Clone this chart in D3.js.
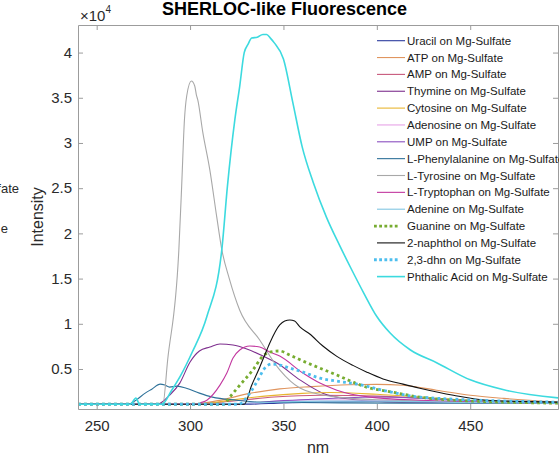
<!DOCTYPE html>
<html>
<head>
<meta charset="utf-8">
<script src="https://cdn.jsdelivr.net/npm/d3@7"></script>
<style>
body { margin: 0; background: #fff; }
svg { display: block; font-family: "Liberation Sans", Arial, sans-serif; }
</style>
</head>
<body>
<div id="chart"></div>
<script>
// Spectra: [wavelength nm, intensity]
const uracil = [[240,1100],[330,1100],[350,1250],[370,1350],[400,1400],[430,1380],[460,1300],[497,1200]];
const atp = [[240,1100],[300,1100],[315,1500],[332,2300],[348,2800],[365,3050],[385,3250],[400,3300],[414,3200],[432,2650],[450,2100],[468,1750],[497,1330]];
const amp = [[240,1100],[300,1100],[320,1400],[345,1900],[370,2100],[400,2000],[440,1600],[497,1250]];
const thymine = [[240,1100],[282,1100],[284,1220],[289,2100],[294.5,3440],[300,5770],[305,6990],[310.6,7430],[316,7760],[323,7650],[330.4,7210],[339,6430],[346.5,5660],[359,3770],[371,2330],[386,1660],[412,1330],[497,1220]];
const cytosine = [[240,1100],[305,1100],[320,1500],[340,2000],[360,2300],[375,2400],[400,2200],[430,1800],[460,1400],[497,1200]];
const adenosine = [[240,1100],[320,1100],[345,1400],[370,1600],[400,1550],[440,1350],[497,1150]];
const ump = [[240,1100],[320,1100],[350,1500],[380,1800],[400,1900],[430,1700],[460,1400],[497,1200]];
const phenylalanine = [[240,1100],[267,1100],[271,1550],[276,2330],[279.5,2770],[284,3330],[286.5,3220],[289,3000],[293,3100],[298,2880],[305,2330],[312,1890],[325,1550],[337,1330],[380,1250],[497,1200]];
const tyrosine = [[240,1100],[285.4,1100],[288,6000],[294,18200],[295.5,25200],[297,32600],[298.2,35200],[300.7,36850],[302.5,36300],[303.4,35300],[304.1,34800],[306.8,31200],[310.6,27000],[314.3,21800],[317,18200],[321,15000],[326.6,11500],[337.3,8200],[348,4900],[358.8,2900],[375,2000],[400,1600],[497,1300]];
const tryptophan = [[240,1100],[304,1100],[305.2,1220],[309,1550],[316,3220],[319.7,4550],[323,6210],[326.6,7100],[332,7540],[337.3,7430],[342.7,6880],[348,6430],[360.4,4550],[369.5,3440],[378.6,2660],[396.3,1890],[423,1550],[497,1220]];
const adenine = [[240,1100],[310,1100],[340,1300],[370,1450],[400,1450],[450,1300],[497,1200]];
const guanine = [[240,1100],[318,1100],[321.3,1900],[326.6,3200],[333.6,4880],[339,6430],[342.7,6880],[348,6990],[353.4,6540],[360.4,5880],[369.5,5100],[378.6,4330],[387.2,3550],[396.3,2880],[405.4,2550],[423,1890],[441,1550],[497,1220]];
const naphthol = [[240,1100],[329,1100],[333,3200],[337.3,5200],[341.1,7100],[342.7,7870],[348,9870],[350.7,10310],[353.4,10420],[356,10310],[358.8,9650],[364.1,8870],[371.1,7540],[378.6,6400],[387.2,5400],[394.7,4650],[403.3,3900],[414,3330],[423,2880],[441,2100],[459,1550],[497,1330]];
const dhn = [[240,1100],[326,1100],[332,2330],[336.3,3770],[340,5100],[343.8,5550],[348,5430],[353.4,5100],[360.4,4660],[369.5,3990],[378.6,3660],[389.3,3330],[405.4,2550],[423,1890],[497,1330]];
const phthalic = [[240,1100],[268,1100],[271,1800],[273,1100],[285,1100],[290,2600],[295,4300],[301,6800],[309,10800],[317,18200],[320,25200],[324,32600],[326.6,36300],[329,40000],[331,40900],[333,41600],[336,41700],[339,42000],[341,42000],[343,41600],[345,41100],[350,39300],[355,34500],[360,29600],[366,25600],[373,21800],[380,18700],[386,16200],[393,13400],[400,10800],[407,9000],[418,7100],[432,5700],[450,3800],[468,2700],[497,1800]];

const seriesNames = ["Uracil on Mg-Sulfate", "ATP on Mg-Sulfate", "AMP on Mg-Sulfate", "Thymine on Mg-Sulfate",
  "Cytosine on Mg-Sulfate", "Adenosine on Mg-Sulfate", "UMP on Mg-Sulfate", "L-Phenylalanine on Mg-Sulfate",
  "L-Tyrosine on Mg-Sulfate", "L-Tryptophan on Mg-Sulfate", "Adenine on Mg-Sulfate", "Guanine on Mg-Sulfate",
  "2-naphthol on Mg-Sulfate", "2,3-dhn on Mg-Sulfate", "Phthalic Acid on Mg-Sulfate"];
const seriesValues = [uracil, atp, amp, thymine, cytosine, adenosine, ump, phenylalanine,
  tyrosine, tryptophan, adenine, guanine, naphthol, dhn, phthalic];

const xTicks = [250, 300, 350, 400, 450];
const yTicks = [5000, 10000, 15000, 20000, 25000, 30000, 35000, 40000];

// line styles, same order as the series
const colors = ["#2b3a9e", "#e0955f", "#c8587c", "#7e2f8e", "#e8b530", "#e6a2e6", "#8a4fbf", "#2e7199",
  "#a8a8a8", "#c2379f", "#82c6e2", "#77ac30", "#111111", "#4dbeee", "#3cdadf"];
const dotted = [false, false, false, false, false, false, false, false, false, false, false, true, false, true, false];

const width = 559, height = 460;
const margin = { top: 25, right: 1, bottom: 51, left: 78 };

const svg = d3.select("#chart").append("svg")
    .attr("width", width)
    .attr("height", height);

const x = d3.scaleLinear().domain([240, 497]).range([margin.left, width - margin.right]);
const y = d3.scaleLinear().domain([575, 43050]).range([height - margin.bottom, margin.top]);

svg.append("clipPath").attr("id", "plot-clip")
  .append("rect")
    .attr("x", margin.left).attr("y", margin.top)
    .attr("width", width - margin.right - margin.left)
    .attr("height", height - margin.bottom - margin.top);

const line = d3.line()
    .x(d => x(d[0]))
    .y(d => y(d[1]))
    .curve(d3.curveMonotoneX);

const series = seriesNames.map((name, i) => ({ name, values: seriesValues[i], color: colors[i], dotted: dotted[i] }));

svg.append("g")
    .attr("clip-path", "url(#plot-clip)")
  .selectAll("path")
  .data(series)
  .join("path")
    .attr("d", d => line(d.values))
    .attr("fill", "none")
    .attr("stroke", d => d.color)
    .attr("stroke-width", d => d.dotted ? 2.8 : (d.name.startsWith("Phthalic") ? 1.6 : 1.1))
    .attr("stroke-dasharray", d => d.dotted ? "2.8,3.2" : null);

// axes, MATLAB style box with inward ticks
const axisColor = "#9c9c9c";
const styleAxis = g => {
  g.select(".domain").attr("stroke", axisColor);
  g.selectAll(".tick line").attr("stroke", axisColor);
  g.selectAll(".tick text").attr("fill", "#2a2a2a").style("font-size", "15px")
    .style("font-family", "Liberation Sans, Arial, sans-serif");
};

svg.append("g")
    .attr("transform", `translate(0,${height - margin.bottom})`)
    .call(d3.axisBottom(x).tickValues(xTicks).tickSize(-5).tickSizeOuter(0).tickPadding(11))
    .call(styleAxis);

svg.append("g")
    .attr("transform", `translate(0,${margin.top})`)
    .call(d3.axisTop(x).tickValues(xTicks).tickSize(-5).tickSizeOuter(0).tickFormat(""))
    .call(styleAxis);

svg.append("g")
    .attr("transform", `translate(${margin.left},0)`)
    .call(d3.axisLeft(y).tickValues(yTicks).tickSize(-5).tickSizeOuter(0).tickPadding(6)
      .tickFormat(d => d3.format("~g")(d / 1e4)))
    .call(styleAxis);

svg.append("g")
    .attr("transform", `translate(${width - margin.right},0)`)
    .call(d3.axisRight(y).tickValues(yTicks).tickSize(-5).tickSizeOuter(0).tickFormat(""))
    .call(styleAxis);

// exponent marker
const expo = svg.append("text").attr("x", 80).attr("y", 21).attr("fill", "#2a2a2a").style("font-size", "15px");
expo.append("tspan").text("\u00d710");
expo.append("tspan").attr("dy", -8).style("font-size", "10px").text("4");

// title and axis labels
svg.append("text")
    .attr("x", 162).attr("y", 15)
    .style("font-size", "18px").style("font-weight", "bold")
    .attr("fill", "#000")
    .text("SHERLOC-like Fluorescence");

svg.append("text")
    .attr("transform", "translate(43,217) rotate(-90)")
    .attr("text-anchor", "middle")
    .attr("fill", "#2a2a2a")
    .style("font-size", "16px")
    .text("Intensity");

svg.append("text")
    .attr("x", 318).attr("y", 453)
    .attr("text-anchor", "middle")
    .attr("fill", "#2a2a2a")
    .style("font-size", "16px")
    .text("nm");

// cut-off text from a neighbouring panel at the left edge
svg.append("text").attr("x", 19).attr("y", 193).attr("text-anchor", "end")
    .attr("fill", "#2a2a2a").style("font-size", "13px").text("fate");
svg.append("text").attr("x", 8).attr("y", 233).attr("text-anchor", "end")
    .attr("fill", "#2a2a2a").style("font-size", "13px").text("e");

// legend (no box)
const legendTop = 40.7, rowH = 16.85;
const legend = svg.append("g").selectAll("g")
  .data(series)
  .join("g")
    .attr("transform", (d, i) => `translate(0,${legendTop + i * rowH})`);

legend.append("line")
    .attr("x1", d => d.dotted ? 374 : 377).attr("x2", d => d.dotted ? 399 : 405)
    .attr("stroke", d => d.color)
    .attr("stroke-width", d => d.dotted ? 2.8 : (d.name.startsWith("Phthalic") ? 1.6 : 1.1))
    .attr("stroke-dasharray", d => d.dotted ? "2.8,2.4" : null);

legend.append("text")
    .attr("x", 407).attr("y", 4)
    .attr("fill", "#1a1a1a")
    .style("font-size", "11.5px")
    .text(d => d.name);
</script>
</body>
</html>
